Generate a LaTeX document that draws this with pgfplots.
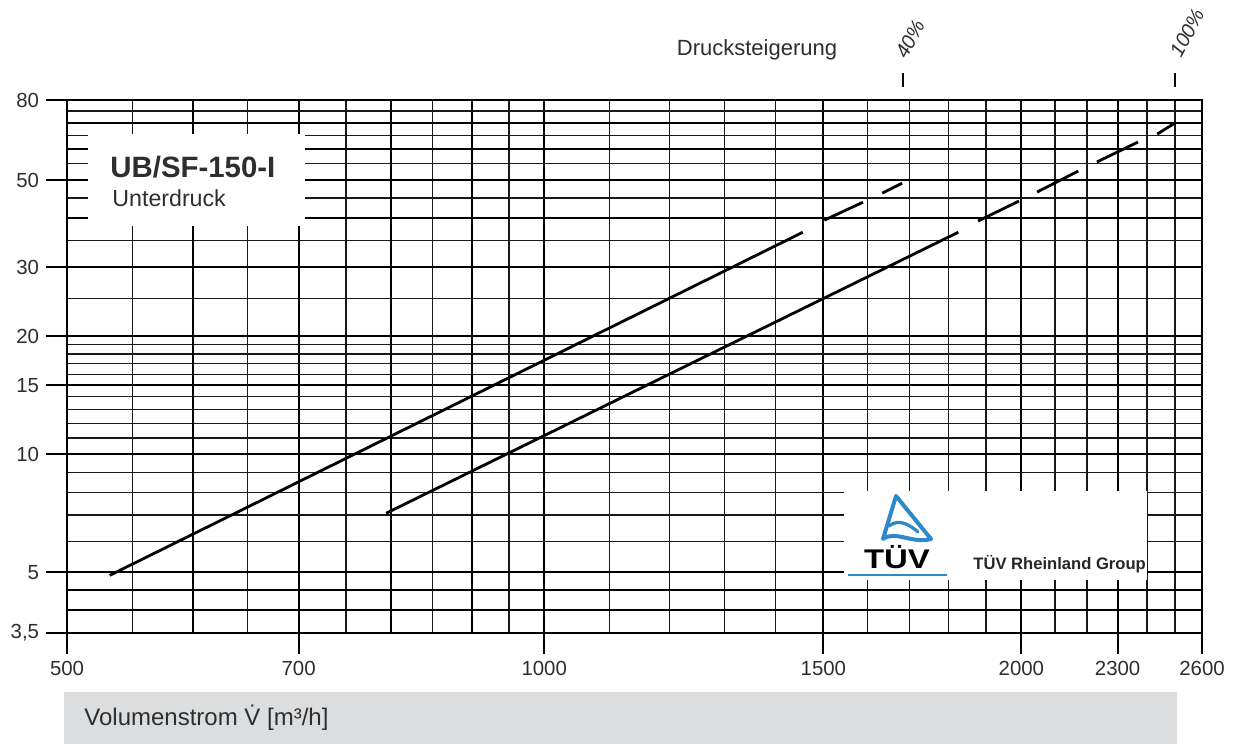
\documentclass[border=0pt]{standalone}
\usepackage{fontspec}
\setmainfont{Liberation Sans}
\usepackage{pgfplots}
\pgfplotsset{compat=1.18}
\definecolor{txt}{HTML}{2E2E2E}
\definecolor{boxgray}{HTML}{DCDDDF}
\definecolor{tuvblue}{HTML}{2E88CC}
\begin{document}
\begin{tikzpicture}
\useasboundingbox (0,0) rectangle (619.5pt,-372pt);
\fill[white] (0,0) rectangle (619.5pt,-372pt);
\begin{axis}[
  at={(33.5pt,-316.5pt)}, anchor=south west,
  scale only axis, width=567.5pt, height=266.5pt,
  xmode=log, ymode=log,
  xmin=500, xmax=2600, ymin=3.5, ymax=80,
  xtick={500,700,1000,1500,2000,2300,2600},
  xticklabels={500,700,1000,1500,2000,2300,2600},
  ytick={3.5,5,10,15,20,30,50,80},
  yticklabels={{3,5},5,10,15,20,30,50,80},
  extra x ticks={600,800,900},
  extra x tick labels={},
  extra x tick style={major tick length=0pt, grid=major},
  extra y ticks={4,4.5,40,60,70},
  extra y tick labels={},
  extra y tick style={major tick length=0pt, grid=major},
  minor xtick={550,650,750,850,950,1100,1200,1300,1400,1600,1700,1800,1900,2100,2200,2400,2500},
  minor ytick={6,7,8,9,11,12,13,14,16,17,18,19,25,35,45,55,65,75},
  grid=both,
  major grid style={black, line width=1pt},
  minor grid style={black!90, line width=0.6pt},
  tick align=outside,
  tick pos=left,
  major tick length=10.5pt,
  minor tick length=0pt,
  tick style={black, line width=1pt},
  axis line style={black, line width=1.15pt},
  ticklabel style={font=\fontsize{10.2}{12}\selectfont, text=txt},
]
% upper curve (40 %)
\addplot[black, line width=1.4pt] coordinates {(532,4.91) (1456,36.8)};
\addplot[black, line width=1.4pt] coordinates {(1502,39.5) (1589,43.9)};
\addplot[black, line width=1.4pt] coordinates {(1634,46.3) (1682,49.1)};
% lower curve (100 %)
\addplot[black, line width=1.4pt] coordinates {(795,7.07) (1825,36.8)};
\addplot[black, line width=1.4pt] coordinates {(1878,39.3) (1993,44.2)};
\addplot[black, line width=1.4pt] coordinates {(2046,46.6) (2172,52.7)};
\addplot[black, line width=1.4pt] coordinates {(2232,55.6) (2369,62.5)};
\addplot[black, line width=1.4pt] coordinates {(2436,65.5) (2500,69.9)};
\end{axis}
\begin{scope}[x=0.5pt,y=-0.5pt]
  % title box
  \fill[white] (88,134) rectangle (305,226);
  \node[anchor=base west, inner sep=0, text=txt, font=\bfseries\fontsize{14.7}{16}\selectfont] at (110,177) {UB/SF-150-I};
  \node[anchor=base west, inner sep=0, text=txt, font=\fontsize{11.6}{13}\selectfont] at (112,206) {Unterdruck};
  % top annotation
  \node[anchor=base, inner sep=0, text=txt, font=\fontsize{11}{13}\selectfont] at (757,55) {Drucksteigerung};
  \draw[black, line width=1pt] (903,73) -- (903,87);
  \draw[black, line width=1pt] (1175,73) -- (1175,87);
  \node[rotate=62, inner sep=0, text=txt, font=\itshape\fontsize{10}{12}\selectfont] at (910,39) {40\%};
  \node[rotate=62, inner sep=0, text=txt, font=\itshape\fontsize{10}{12}\selectfont] at (1187,33) {100\%};
  % TUV box
  \fill[white] (844,491) rectangle (1147,580);
  \draw[tuvblue, line width=2pt, line join=round, line cap=round]
     (931,539) -- (896,496) -- (883,539) .. controls (895,530) and (912,544) .. (931,539);
  \draw[tuvblue, line width=1.6pt, line cap=round] (889,526) .. controls (899,518) and (910,525) .. (918,532);
  \node[inner sep=0, anchor=base, text=black, font=\bfseries\fontsize{13.5}{15}\selectfont, xscale=1.22] at (897,568) {TÜV};
  \draw[tuvblue, line width=0.8pt] (848,575) -- (947,575);
  \node[anchor=base west, inner sep=0, text=black!85, font=\bfseries\fontsize{8.3}{10}\selectfont] at (973,569) {TÜV Rheinland Group};
  % x label box
  \fill[boxgray] (64,692) rectangle (1177,744);
  \node[anchor=base west, inner sep=0, text=txt, font=\fontsize{12}{14}\selectfont] at (84,725) {Volumenstrom \.{V} [m³/h]};
\end{scope}
\end{tikzpicture}
\end{document}
